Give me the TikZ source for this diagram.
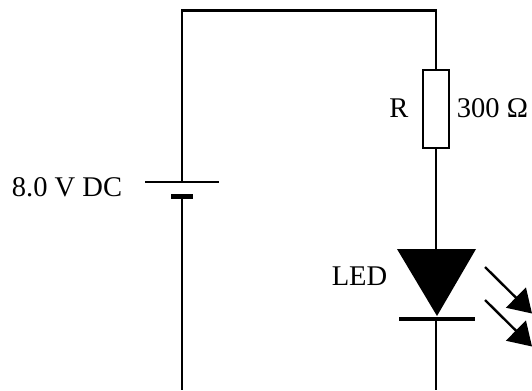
\documentclass[tikz,border=0pt]{standalone}
\usepackage{fontspec}
\setmainfont{Liberation Serif}
\usetikzlibrary{arrows.meta}

\tikzset{
  wire/.style={line width=1.8pt},
  plate/.style={rectangle, fill=black, inner sep=0pt},
  label/.style={font=\fontsize{21.4}{24}\selectfont, anchor=base, inner sep=0pt},
  light/.style={line width=1.8pt, -{Triangle[length=17pt, width=21pt]}}
}

\begin{document}
\begin{tikzpicture}[x=0.75pt, y=-0.75pt]
\useasboundingbox (0,0) rectangle (532,390);

\coordinate (TL) at (182,10.5);
\coordinate (TR) at (436,10.5);
\coordinate (BL) at (182,390);
\coordinate (BR) at (436,390);

\node[draw, wire, fill=white, minimum width=19.5pt, minimum height=58.5pt, inner sep=0pt] (Res) at (436,109) {};

\node[plate, minimum width=55.5pt, minimum height=1.8pt] (Bat_A) at (182,182) {};
\node[plate, minimum width=16.5pt, minimum height=3.2pt] (Bat_B) at (182,196.5) {};
\node[plate, minimum width=57pt, minimum height=3.6pt]   (Led_K) at (437,319) {};

% LED body
\coordinate (Led_A) at (436,249);
\fill (397,249) -- (476,249) -- (437,316) -- cycle;

\begin{scope}[wire, line join=miter]
\draw (Bat_A.center) -- (TL) -- (TR) -- (Res.north);
\draw (Res.south) -- (Led_A);
\draw (Bat_B.center) -- (BL);
\draw (Led_K.center -| BR) -- (BR);
\end{scope}

\coordinate (Ray_A) at (485,267);
\coordinate (Tip_A) at (532,313.5);
\coordinate (Ray_B) at (485,300);
\coordinate (Tip_B) at (532,346.5);
\draw[light] (Ray_A) -- (Tip_A);
\draw[light] (Ray_B) -- (Tip_B);

\node[label] (Lbl_V)   at (67,196)   {8.0 V DC};
\node[label] (Lbl_R)   at (399,117)  {R};
\node[label] (Lbl_Ohm) at (492.5,117) {300 Ω};
\node[label] (Lbl_Led) at (359.5,285) {LED};

\end{tikzpicture}
\end{document}
